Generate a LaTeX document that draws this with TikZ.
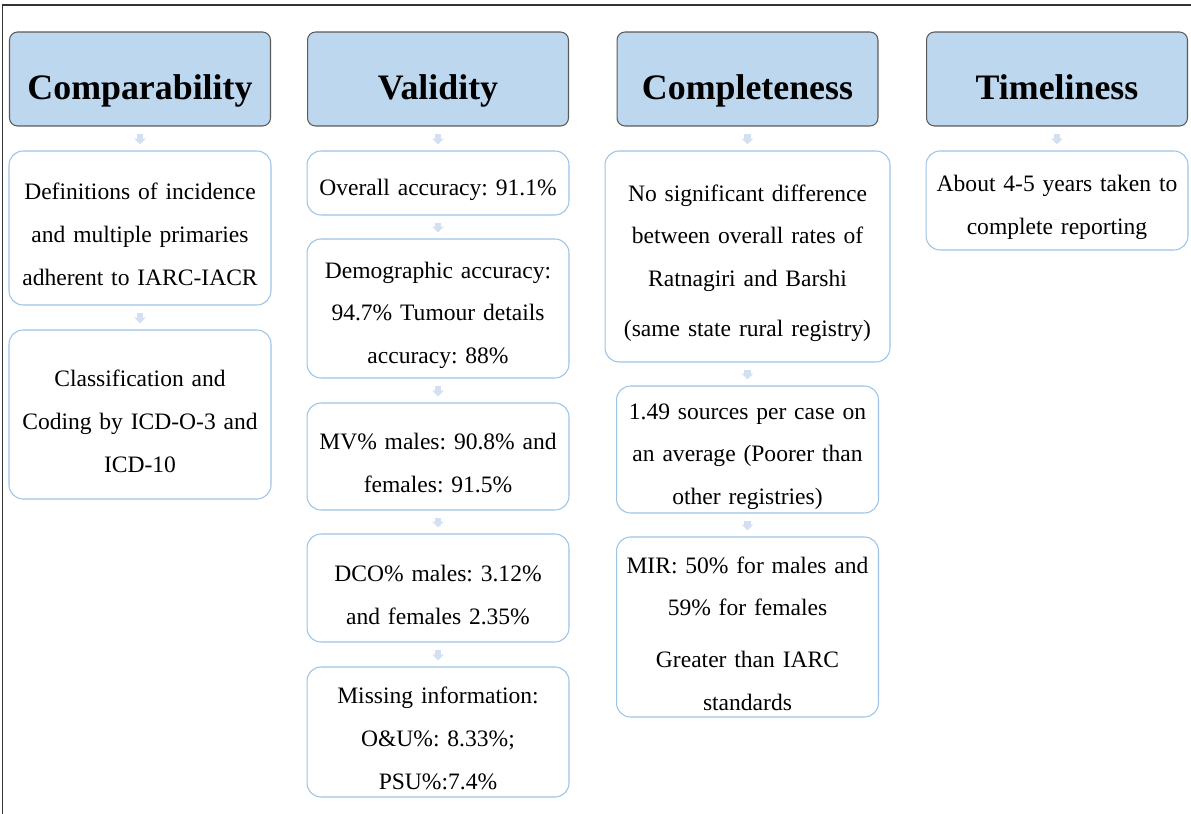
\documentclass[tikz,border=0pt]{standalone}
\usepackage{fontspec}
\setmainfont{Liberation Serif}
\frenchspacing
\usetikzlibrary{arrows.meta}

\definecolor{hdrfill}{HTML}{BDD7EE}
\definecolor{hdrline}{HTML}{5A5A5A}
\definecolor{itemline}{HTML}{9DC3E6}
\definecolor{linkcol}{HTML}{D3E0F2}

\tikzset{
    hdr/.style={draw=hdrline, fill=hdrfill, rounded corners=0.16cm, line width=0.6pt,
        minimum width=5.22cm, minimum height=1.88cm, text height=28.8pt, text depth=5pt,
        font=\fontsize{20.4}{24}\selectfont\bfseries},
    item/.style={draw=itemline, fill=white, rounded corners=0.28cm, line width=0.6pt,
        minimum width=5.24cm, text width=5cm, align=center, inner xsep=2pt, inner ysep=0pt,
        font=\fontsize{13.4}{24.4}\selectfont,
        execute at begin node={\rule{0pt}{17pt}}},
    link/.style={linkcol, line width=3.6pt, -{Triangle[width=6.4pt,length=3.4pt]},
        shorten <=0.15cm, shorten >=0.12cm}
}

\begin{document}
\begin{tikzpicture}[x=0.02cm, y=0.02cm]
    \useasboundingbox (0,0) rectangle (1191,-814);
    % frame along the top and left edge
    \draw[line width=0.9pt, black!80] (1191,-5) -- (2.5,-5) -- (2.5,-814);

    % headings
    \node[hdr] (comp)  at (140,-79)    {Comparability};
    \node[hdr] (valid) at (438,-79)    {Validity};
    \node[hdr] (compl) at (747.5,-79)  {Completeness};
    \node[hdr] (time)  at (1057,-79)   {Timeliness};

    % Comparability
    \node[item, minimum height=3.08cm] (def) at (140,-228)
        {Definitions of incidence\\ and multiple primaries\\ adherent to IARC-IACR};
    \node[item, minimum height=3.38cm] (cls) at (140,-414.5)
        {Classification and\\ Coding by ICD-O-3 and\\ ICD-10};

    % Validity
    \node[item, minimum height=1.28cm] (acc) at (438,-183)
        {Overall accuracy: 91.1\%};
    \node[item, minimum height=2.78cm] (demo) at (438,-308.5)
        {Demographic accuracy:\\ 94.7\% Tumour details\\ accuracy: 88\%};
    \node[item, minimum height=2.14cm] (mv) at (438,-456.5)
        {MV\% males: 90.8\% and\\ females: 91.5\%};
    \node[item, minimum height=2.16cm] (dco) at (438,-588)
        {DCO\% males: 3.12\%\\ and females 2.35\%};
    \node[item, minimum height=2.6cm] (miss) at (438,-732)
        {Missing information:\\ O\&U\%: 8.33\%;\\ PSU\%:7.4\%};

    % Completeness
    \node[item, minimum width=5.7cm, minimum height=4.22cm] (nosig) at (747.5,-256.5)
        {No significant difference\\ between overall rates of\\ Ratnagiri and Barshi\\[4pt] (same state rural registry)};
    \node[item, minimum height=2.54cm] (src) at (747.5,-449.5)
        {1.49 sources per case on\\ an average (Poorer than\\ other registries)};
    \node[item, minimum height=3.6cm] (mir) at (747.5,-627)
        {MIR: 50\% for males and\\ 59\% for females\\[5pt] Greater than IARC\\ standards};

    % Timeliness
    \node[item, minimum height=1.98cm] (rep) at (1057,-200.5)
        {About 4-5 years taken to\\ complete reporting};

    % links down each column
    \draw[link] (comp) -- (def);
    \draw[link] (def) -- (cls);
    \draw[link] (valid) -- (acc);
    \draw[link] (acc) -- (demo);
    \draw[link] (demo) -- (mv);
    \draw[link] (mv) -- (dco);
    \draw[link] (dco) -- (miss);
    \draw[link] (compl) -- (nosig);
    \draw[link] (nosig) -- (src);
    \draw[link] (src) -- (mir);
    \draw[link] (time) -- (rep);
\end{tikzpicture}
\end{document}
